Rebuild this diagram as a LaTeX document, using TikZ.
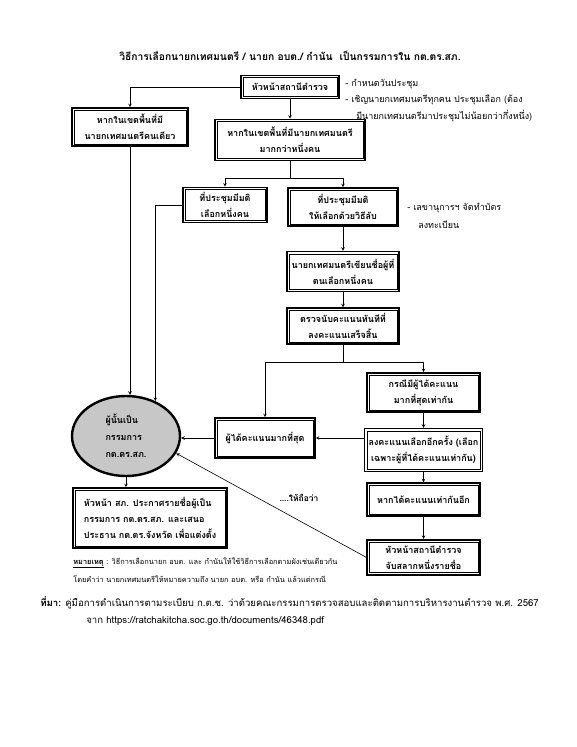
\documentclass[tikz,border=0pt]{standalone}
\usepackage{fontspec}
\newfontfamily\thaifont[Script=Thai]{Loma}
\usepackage{tikz}
\usetikzlibrary{positioning}
\usetikzlibrary{arrows}
\usetikzlibrary{shapes.geometric}
\definecolor{ellgray}{rgb}{0.78,0.78,0.78}

\begin{document}
\begin{tikzpicture}[
            x = 1pt, y = -1pt, % pixel grid, y runs down
            > = stealth, % arrow head style
            semithick % line style
            ]

        \tikzstyle{box}=[
            draw, rectangle,
            line width = 1.6pt,
            fill = white,
            align = center,
            inner sep = 4pt,
            font = \thaifont\bfseries\fontsize{9}{16}\selectfont,
            path picture = {\draw[line width=0.5pt]
                ([shift={(2.2pt,2.2pt)}]path picture bounding box.south west) rectangle
                ([shift={(-2.2pt,-2.2pt)}]path picture bounding box.north east);}
        ]
        \tikzstyle{note}=[
            inner sep = 0pt,
            anchor = west,
            align = left,
            font = \thaifont\fontsize{9}{16}\selectfont
        ]

	\useasboundingbox[fill=white] (0,0) rectangle (577,747);

	% title
	\node (title) at (290,56) [font=\thaifont\bfseries\fontsize{10.3}{16}\selectfont] {วิธีการเลือกนายกเทศมนตรี / นายก อบต./ กำนัน \ เป็นกรรมการใน กต.ตร.สภ.};

	% police station head
	\node[box, minimum width=98, minimum height=23] (head) at (290,87) {หัวหน้าสถานีตำรวจ};
	\node[note] (n1) at (345,84) {- กำหนดวันประชุม};
	\node[note] (n2) at (345,100) {- เชิญนายกเทศมนตรีทุกคน ประชุมเลือก (ต้อง};
	\node[note] (n3) at (356,116) {มีนายกเทศมนตรีมาประชุมไม่น้อยกว่ากึ่งหนึ่ง)};

	% one or many mayors
	\node[box, minimum width=116, minimum height=38] (one) at (130,127) {หากในเขตพื้นที่มี\\นายกเทศมนตรีคนเดียว};
	\node[box, minimum width=150, minimum height=41] (many) at (290,140) {หากในเขตพื้นที่มีนายกเทศมนตรี\\มากกว่าหนึ่งคน};
	\draw[->] (head.west) -| (one.north);
	\path[->] (head) edge node {} (many);

	% meeting resolution
	\node[box, minimum width=84, minimum height=35] (pick) at (225,205) {ที่ประชุมมีมติ\\เลือกหนึ่งคน};
	\node[box, minimum width=110, minimum height=38] (secret) at (343,207) {ที่ประชุมมีมติ\\ให้เลือกด้วยวิธีลับ};
	\draw[->] (many.south) -- ++(0,17) -| (pick.north);
	\draw[->] (many.south) -- ++(0,17) -| (secret.north);
	\node[note] (n4) at (407,208) {- เลขานุการฯ จัดทำบัตร};
	\node[note] (n5) at (418,225) {ลงทะเบียน};

	% secret ballot
	\node[box, minimum width=112, minimum height=40] (write) [below = 24pt of secret] {นายกเทศมนตรีเขียนชื่อผู้ที่\\ตนเลือกหนึ่งคน};
	\node[box, minimum width=112, minimum height=36] (count) [below = 15pt of write] {ตรวจนับคะแนนทันทีที่\\ลงคะแนนเสร็จสิ้น};
	\path[->] (secret) edge node {} (write);
	\path[->] (write) edge node {} (count);

	% results
	\node[box, minimum width=113, minimum height=39] (tie) at (423.5,392.5) {กรณีมีผู้ได้คะแนน\\มากที่สุดเท่ากัน};
	\node[box, minimum width=100, minimum height=40] (most) at (265,438) {ผู้ได้คะแนนมากที่สุด};
	\draw[->] (count.south) -- ++(0,17) -| (most.north);
	\draw[->] (count.south) -- ++(0,17) -| (tie.north);

	\node[box, minimum width=115, minimum height=43] (revote) [below = 15pt of tie] {ลงคะแนนเลือกอีกครั้ง (เลือก\\เฉพาะผู้ที่ได้คะแนนเท่ากัน)};
	\node[box, minimum width=113, minimum height=33] (again) [below = 10pt of revote] {หากได้คะแนนเท่ากันอีก};
	\node[box, minimum width=113, minimum height=35] (lots) [below = 22pt of again] {หัวหน้าสถานีตำรวจ\\จับสลากหนึ่งรายชื่อ};
	\path[->] (tie) edge node {} (revote);
	\path[->] (revote) edge node {} (again);
	\path[->] (again) edge node {} (lots);

	% committee member
	\node[ellipse, draw, line width=2.4pt, fill=ellgray, minimum width=108, minimum height=80,
	      inner sep=0pt, align=left, font=\thaifont\bfseries\fontsize{9}{17}\selectfont] (member) at (126,436) {ผู้นั้นเป็น\\กรรมการ\\กต.ตร.สภ.};
	\draw[->] (one.south) -- (one.south |- member.north);
	\draw[->] (pick.west) -| (member.50);
	\draw[->] (most.west) -- (most.west -| member.east);
	\draw[->] (revote.west |- most.east) -- (most.east);
	\draw[->] (lots.west) -- (member.-19);
	\node (deem) at (299,498) [font=\thaifont\bfseries\fontsize{8.5}{16}\selectfont] {....ให้ถือว่า};

	% announcement
	\node[box, minimum width=154, minimum height=60, align=left] (announce) at (150,518) {หัวหน้า สภ. ประกาศรายชื่อผู้เป็น\\กรรมการ กต.ตร.สภ. และเสนอ\\ประธาน กต.ตร.จังหวัด เพื่อแต่งตั้ง};
	\draw[->] (member.south) -- (member.south |- announce.north);

	% remarks and source
	\node[note, font=\thaifont\fontsize{7.4}{16}\selectfont] (rem1) at (73,563) {\underline{\textbf{หมายเหตุ}} : วิธีการเลือกนายก อบต. และ กำนันให้ใช้วิธีการเลือกตามผังเช่นเดียวกัน};
	\node[note, font=\thaifont\fontsize{7.4}{16}\selectfont] (rem2) at (73,579) {โดยคำว่า นายกเทศมนตรีให้หมายความถึง นายก อบต. หรือ กำนัน แล้วแต่กรณี};
	\node[note, font=\thaifont\fontsize{9.6}{16}\selectfont] (src1) at (40,603) {\textbf{ที่มา:} คู่มือการดำเนินการตามระเบียบ ก.ต.ช. ว่าด้วยคณะกรรมการตรวจสอบและติดตามการบริหารงานตำรวจ พ.ศ. 2567};
	\node[note, font=\thaifont\fontsize{9.6}{16}\selectfont] (src2) at (86,621) {จาก https://ratchakitcha.soc.go.th/documents/46348.pdf};

\end{tikzpicture}
\end{document}
